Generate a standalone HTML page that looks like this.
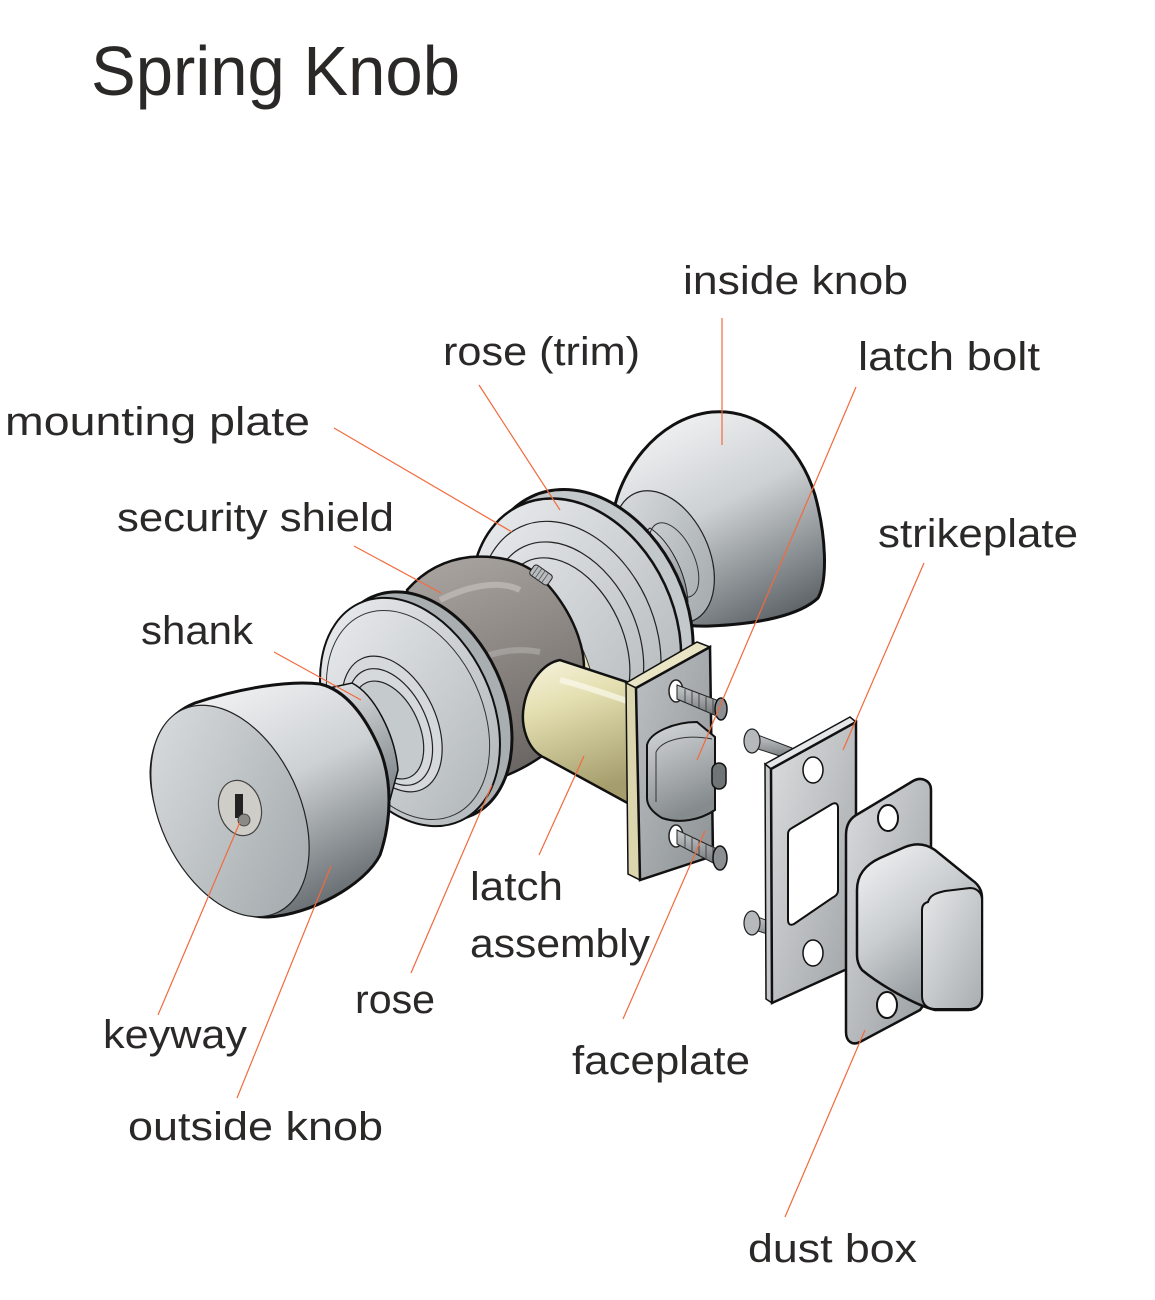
<!DOCTYPE html>
<html><head><meta charset="utf-8"><style>
html,body{margin:0;padding:0;background:#fff;}
svg{display:block;}
text{font-family:"Liberation Sans",sans-serif;fill:#2b2828;}
</style></head><body>
<svg width="1155" height="1300" viewBox="0 0 1155 1300" xmlns="http://www.w3.org/2000/svg">
<defs>
<linearGradient id="gKnob" x1="0.25" y1="0" x2="0.75" y2="1">
<stop offset="0" stop-color="#f2f3f4"/><stop offset="0.45" stop-color="#cdd1d4"/><stop offset="1" stop-color="#5d6367"/></linearGradient>
<linearGradient id="gFace" x1="0" y1="0" x2="0.5" y2="1">
<stop offset="0" stop-color="#dcdfe1"/><stop offset="1" stop-color="#a9afb2"/></linearGradient>
<linearGradient id="gRose" x1="0" y1="0" x2="0.4" y2="1">
<stop offset="0" stop-color="#eceef0"/><stop offset="1" stop-color="#b8bdc0"/></linearGradient>
<linearGradient id="gShield" x1="0" y1="0" x2="0.3" y2="1">
<stop offset="0" stop-color="#aca7a3"/><stop offset="0.5" stop-color="#8d8884"/><stop offset="1" stop-color="#6c6764"/></linearGradient>
<linearGradient id="gTube" x1="0" y1="0" x2="0.25" y2="1">
<stop offset="0" stop-color="#f6f3de"/><stop offset="0.35" stop-color="#e5e0b2"/><stop offset="1" stop-color="#a59d6c"/></linearGradient>
<linearGradient id="gFP" x1="0" y1="0" x2="1" y2="1">
<stop offset="0" stop-color="#bdc1c4"/><stop offset="1" stop-color="#8d9295"/></linearGradient>
<linearGradient id="gBolt" x1="0" y1="0" x2="0.3" y2="1">
<stop offset="0" stop-color="#d6d9db"/><stop offset="1" stop-color="#868b8e"/></linearGradient>
<linearGradient id="gStrike" x1="0" y1="0" x2="1" y2="1">
<stop offset="0" stop-color="#dcdedf"/><stop offset="1" stop-color="#9fa3a6"/></linearGradient>
<linearGradient id="gDust" x1="0" y1="0" x2="1" y2="1">
<stop offset="0" stop-color="#dadcde"/><stop offset="1" stop-color="#979c9f"/></linearGradient>
<linearGradient id="gBox" x1="0" y1="0" x2="0.6" y2="1">
<stop offset="0" stop-color="#f4f5f6"/><stop offset="0.5" stop-color="#c9cdd0"/><stop offset="1" stop-color="#8a9094"/></linearGradient>
<linearGradient id="gBoxFace" x1="0" y1="0" x2="1" y2="1">
<stop offset="0" stop-color="#e6e8e9"/><stop offset="1" stop-color="#a8adb0"/></linearGradient>
<linearGradient id="gNeck" x1="0" y1="0" x2="0.3" y2="1">
<stop offset="0" stop-color="#e3e6e8"/><stop offset="1" stop-color="#7d8387"/></linearGradient>
<linearGradient id="gScrew" x1="0" y1="0" x2="0" y2="1">
<stop offset="0" stop-color="#c8cbcd"/><stop offset="1" stop-color="#6d7275"/></linearGradient>
</defs>
<rect width="1155" height="1300" fill="#fff"/>

<!-- inside knob -->
<path d="M613,516 C618,475 655,418 712,412 C760,408 800,445 815,495 C826,535 828,580 818,598 C800,615 760,624 710,626 C670,628 630,610 618,575 C610,555 609,535 613,516 Z" fill="url(#gKnob)" stroke="#111" stroke-width="3"/>
<ellipse cx="664" cy="557" rx="45" ry="70" transform="rotate(-25 664 557)" fill="url(#gFace)" stroke="#222" stroke-width="1.2"/>
<path d="M605,565 L650,528 C668,540 686,570 688,602 L640,628 Z" fill="url(#gNeck)" stroke="#222" stroke-width="1"/>
<ellipse cx="674" cy="560" rx="20" ry="40" transform="rotate(-25 674 560)" fill="none" stroke="#333" stroke-width="1"/>

<!-- back rose (trim) + mounting plate -->
<ellipse cx="588" cy="617" rx="98" ry="133" transform="rotate(-25 588 617)" fill="#c3c8cb" stroke="#111" stroke-width="3"/>
<ellipse cx="576" cy="626" rx="98" ry="133" transform="rotate(-25 576 626)" fill="url(#gRose)" stroke="#111" stroke-width="2.5"/>
<ellipse cx="570" cy="634" rx="84" ry="118" transform="rotate(-25 570 634)" fill="none" stroke="#222" stroke-width="1.2"/>
<ellipse cx="567" cy="639" rx="70" ry="102" transform="rotate(-25 567 639)" fill="none" stroke="#222" stroke-width="1.2"/>
<ellipse cx="565" cy="643" rx="58" ry="90" transform="rotate(-25 565 643)" fill="none" stroke="#222" stroke-width="1.2"/>

<!-- cream ring + security shield -->
<ellipse cx="548" cy="660" rx="36" ry="82" transform="rotate(-25 548 660)" fill="#e8e2b8" stroke="#333" stroke-width="1"/>
<path d="M407,590 C425,570 445,560 470,557 C495,555 520,560 537,574 C560,595 578,625 583,655 C588,690 575,725 550,750 C535,762 520,770 505,776 L465,790 Z" fill="url(#gShield)" stroke="#111" stroke-width="2.5"/>
<path d="M440,600 C470,585 500,580 520,590" fill="none" stroke="#c9c5c2" stroke-width="6" opacity="0.6"/>
<path d="M475,660 C500,650 520,648 540,652" fill="none" stroke="#b3afab" stroke-width="6" opacity="0.6"/>
<g transform="rotate(35 541 575)"><rect x="530" y="569" width="22" height="12" rx="3" fill="#b8bcbf" stroke="#222" stroke-width="1"/>
<path d="M534,569 L534,581 M538,569 L538,581 M542,569 L542,581 M546,569 L546,581" stroke="#555" stroke-width="0.8"/></g>

<!-- latch tube -->
<path d="M560,660 L633,684 L633,806 L545,758 C527,750 520,725 524,705 C528,683 543,663 560,660 Z" fill="url(#gTube)" stroke="#111" stroke-width="2.5"/>
<path d="M560,680 C580,685 610,695 630,702" fill="none" stroke="#fbf9ec" stroke-width="6" opacity="0.7"/>

<!-- faceplate -->
<polygon points="626,683 697,642 710,647 636,688" fill="#e9e4c4" stroke="#111" stroke-width="1.5"/>
<polygon points="626,683 636,688 640,880 628,874" fill="#dcd6ae" stroke="#111" stroke-width="1.5"/>
<polygon points="636,688 710,647 713,856 640,880" fill="url(#gFP)" stroke="#111" stroke-width="2.5"/>
<path d="M647,745 C650,732 675,722 697,722 L715,737 L715,810 C700,820 680,824 662,818 C652,812 647,805 647,798 Z" fill="url(#gBolt)" stroke="#111" stroke-width="2"/>
<path d="M656,752 C662,740 685,734 712,739 M656,752 L656,802" fill="none" stroke="#333" stroke-width="1"/>
<rect x="712" y="763" width="14" height="26" rx="7" fill="#6f7477" stroke="#111" stroke-width="1.5"/>
<ellipse cx="676" cy="691" rx="7" ry="11" fill="#fff" stroke="#222" stroke-width="1.5"/>
<path d="M677,685 L719,701 L719,717 L677,699 Z" fill="url(#gScrew)" stroke="#222" stroke-width="1"/>
<path d="M685,689 L685,702 M692,691 L692,705 M699,694 L699,708 M706,696 L706,711 M713,699 L713,714" stroke="#444" stroke-width="1"/>
<ellipse cx="721" cy="709" rx="6" ry="11" fill="#8b8f92" stroke="#111" stroke-width="1.5"/>
<ellipse cx="676" cy="836" rx="7" ry="11" fill="#fff" stroke="#222" stroke-width="1.5"/>
<path d="M677,830 L719,850 L719,866 L677,844 Z" fill="url(#gScrew)" stroke="#222" stroke-width="1"/>
<path d="M685,834 L685,848 M692,837 L692,852 M699,840 L699,855 M706,843 L706,859 M713,846 L713,862" stroke="#444" stroke-width="1"/>
<ellipse cx="720" cy="858" rx="7" ry="12" fill="#8b8f92" stroke="#111" stroke-width="1.5"/>

<!-- front rose -->
<ellipse cx="422" cy="706" rx="82" ry="120" transform="rotate(-25 422 706)" fill="#a9aeb1" stroke="#111" stroke-width="3"/>
<ellipse cx="410" cy="712" rx="82" ry="120" transform="rotate(-25 410 712)" fill="url(#gRose)" stroke="#111" stroke-width="2"/>
<ellipse cx="408" cy="715" rx="74" ry="110" transform="rotate(-25 408 715)" fill="none" stroke="#333" stroke-width="1"/>
<ellipse cx="392" cy="724" rx="44" ry="72" transform="rotate(-25 392 724)" fill="#d5d9dc" stroke="#222" stroke-width="1.2"/>
<ellipse cx="390" cy="727" rx="37" ry="62" transform="rotate(-25 390 727)" fill="none" stroke="#222" stroke-width="1.2"/>
<ellipse cx="388" cy="730" rx="31" ry="52" transform="rotate(-25 388 730)" fill="#c5cacd" stroke="#222" stroke-width="1.2"/>

<!-- outside neck -->
<path d="M320,690 L352,683 C375,695 395,735 398,770 L390,800 L340,820 Z" fill="url(#gNeck)" stroke="#111" stroke-width="1.5"/>

<!-- outside knob -->
<path d="M151,772 C152,742 165,715 195,703 C240,688 290,680 320,684 C345,690 365,715 380,750 C392,780 392,820 380,855 C365,885 310,915 268,917 C235,918 200,890 180,860 C162,832 151,800 151,772 Z" fill="url(#gKnob)" stroke="#111" stroke-width="3"/>
<ellipse cx="230" cy="811" rx="70" ry="112" transform="rotate(-25 230 811)" fill="url(#gFace)" stroke="#222" stroke-width="1.2"/>
<ellipse cx="240" cy="808" rx="21" ry="28" transform="rotate(-15 240 808)" fill="#cfcdc7" stroke="#444" stroke-width="1.2"/>
<rect x="235" y="794" width="8" height="24" fill="#222"/>
<circle cx="244" cy="820" r="6" fill="#8a8a86" stroke="#333" stroke-width="0.8"/>

<!-- strikeplate screws -->
<path d="M755,734 L792,748 L792,760 L755,748 Z" fill="url(#gScrew)" stroke="#222" stroke-width="1"/>
<ellipse cx="752" cy="741" rx="8" ry="12" fill="#b5b9bc" stroke="#222" stroke-width="1.2"/>
<path d="M755,916 L792,930 L792,942 L755,930 Z" fill="url(#gScrew)" stroke="#222" stroke-width="1"/>
<ellipse cx="752" cy="923" rx="8" ry="12" fill="#b5b9bc" stroke="#222" stroke-width="1.2"/>

<!-- strikeplate -->
<polygon points="765,764 850,717 856,722 771,769" fill="#e4e6e7" stroke="#111" stroke-width="1.5"/>
<polygon points="765,764 771,769 772,1003 766,999" fill="#c5c8ca" stroke="#111" stroke-width="1.5"/>
<polygon points="771,769 856,722 856,965 772,1003" fill="url(#gStrike)" stroke="#111" stroke-width="2.5"/>
<path d="M792,828 L832,804 C836,802 838,804 838,808 L838,890 C838,894 836,896 832,898 L794,924 C790,926 788,924 788,920 L788,834 C788,831 790,829 792,828 Z" fill="#fff" stroke="#111" stroke-width="2"/>
<ellipse cx="813" cy="770" rx="10" ry="13" fill="#fff" stroke="#111" stroke-width="1.5"/>
<ellipse cx="813" cy="953" rx="10" ry="13" fill="#fff" stroke="#111" stroke-width="1.5"/>

<!-- dust box -->
<path d="M846,835 C846,825 850,818 858,814 L913,781 C922,776 931,781 931,790 L931,995 L920,1010 L860,1042 C852,1046 846,1041 846,1032 Z" fill="url(#gDust)" stroke="#111" stroke-width="2.5"/>
<ellipse cx="888" cy="818" rx="10" ry="13" fill="#fff" stroke="#111" stroke-width="2"/>
<ellipse cx="887" cy="1005" rx="10" ry="13" fill="#fff" stroke="#111" stroke-width="2"/>
<path d="M857,890 C857,875 865,865 880,858 L905,847 C915,843 925,843 935,850 L972,880 C978,884 982,890 982,898 L982,995 C982,1004 977,1010 968,1010 L935,1010 C915,1005 880,985 862,970 C858,965 857,960 857,955 Z" fill="url(#gBox)" stroke="#111" stroke-width="2.5"/>
<path d="M928,902 C930,895 936,893 945,891 L970,888 C977,888 982,893 982,900 L982,996 C982,1004 977,1009 969,1009 L935,1009 C927,1009 922,1004 922,996 L922,910 C922,906 924,903 928,902 Z" fill="url(#gBoxFace)" stroke="#111" stroke-width="2"/>

<!-- leader lines -->
<g stroke="#f26a3d" stroke-width="1.2" fill="none">
<line x1="722" y1="318" x2="722" y2="445"/>
<line x1="479" y1="385" x2="560" y2="510"/>
<line x1="856" y1="387" x2="697" y2="760"/>
<line x1="334" y1="428" x2="512" y2="532"/>
<line x1="354" y1="546" x2="441" y2="593"/>
<line x1="274" y1="652" x2="361" y2="700"/>
<line x1="924" y1="563" x2="843" y2="750"/>
<line x1="158" y1="1015" x2="240" y2="822"/>
<line x1="237" y1="1098" x2="331" y2="866"/>
<line x1="411" y1="973" x2="492" y2="785"/>
<line x1="539" y1="855" x2="584" y2="756"/>
<line x1="623" y1="1019" x2="705" y2="831"/>
<line x1="785" y1="1217" x2="865" y2="1030"/>
</g>

<!-- text -->
<text x="91" y="95" font-size="70" textLength="369" lengthAdjust="spacingAndGlyphs">Spring Knob</text>
<g font-size="40">
<text x="683" y="294" textLength="225" lengthAdjust="spacingAndGlyphs">inside knob</text>
<text x="443" y="365" textLength="197" lengthAdjust="spacingAndGlyphs">rose (trim)</text>
<text x="858" y="370" textLength="182" lengthAdjust="spacingAndGlyphs">latch bolt</text>
<text x="5" y="435" textLength="305" lengthAdjust="spacingAndGlyphs">mounting plate</text>
<text x="117" y="531" textLength="277" lengthAdjust="spacingAndGlyphs">security shield</text>
<text x="878" y="547" textLength="200" lengthAdjust="spacingAndGlyphs">strikeplate</text>
<text x="141" y="644" textLength="112" lengthAdjust="spacingAndGlyphs">shank</text>
<text x="470" y="900" textLength="93" lengthAdjust="spacingAndGlyphs">latch</text>
<text x="470" y="957" textLength="180" lengthAdjust="spacingAndGlyphs">assembly</text>
<text x="355" y="1013" textLength="80" lengthAdjust="spacingAndGlyphs">rose</text>
<text x="103" y="1048" textLength="144" lengthAdjust="spacingAndGlyphs">keyway</text>
<text x="572" y="1074" textLength="178" lengthAdjust="spacingAndGlyphs">faceplate</text>
<text x="128" y="1140" textLength="255" lengthAdjust="spacingAndGlyphs">outside knob</text>
<text x="748" y="1262" textLength="169" lengthAdjust="spacingAndGlyphs">dust box</text>
</g>
</svg>
</body></html>
